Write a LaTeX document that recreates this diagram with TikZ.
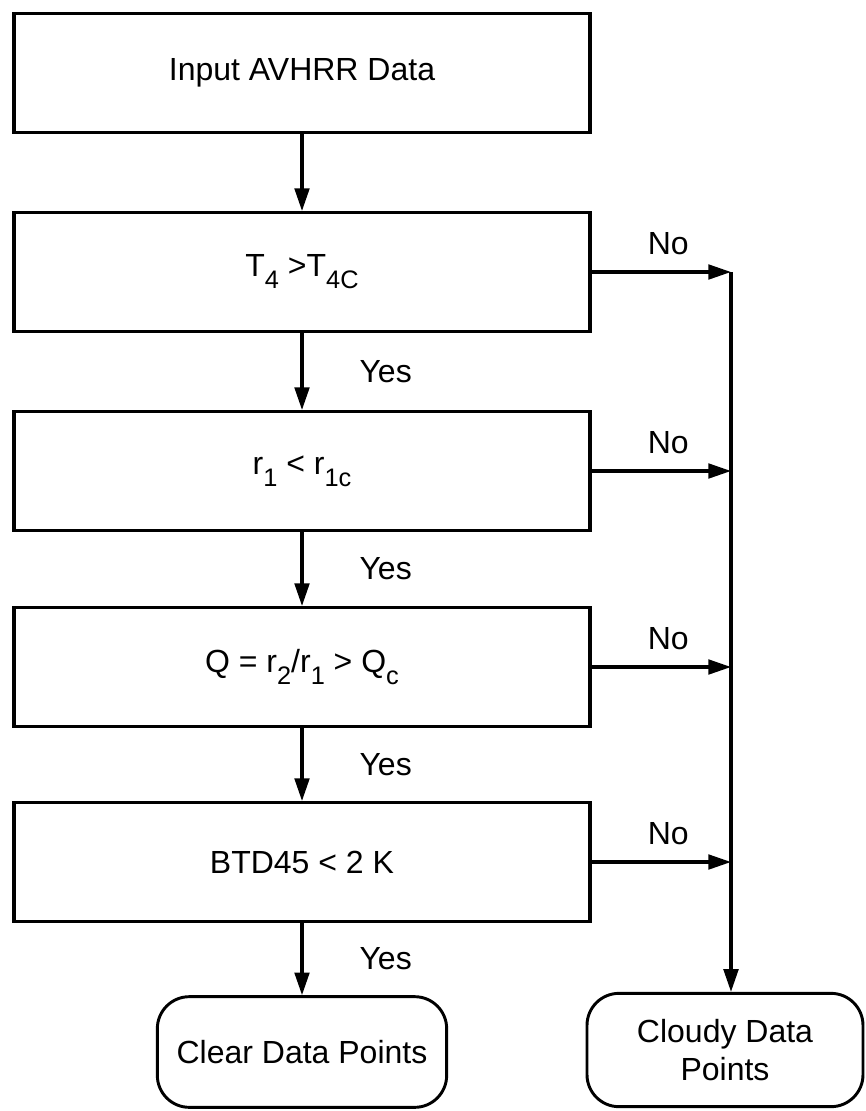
\documentclass[tikz,border=0pt]{standalone}
\usepackage{fontspec}
\setmainfont{Liberation Sans}
\usetikzlibrary{arrows.meta}
\newcommand{\dn}[1]{\raisebox{-0.38em}{\fontsize{19}{19}\selectfont #1}}
\begin{document}
\begin{tikzpicture}[x=0.75pt,y=-0.75pt,
  every node/.style={font=\fontsize{24}{29}\selectfont},
  procbox/.style={draw,line width=2.5pt,minimum width=432pt,minimum height=89pt,inner sep=0pt},
  termbox/.style={draw,line width=2.2pt,rounded corners=24pt,inner sep=0pt,align=center},
  flow/.style={line width=2.3pt,-{Triangle[length=17pt,width=11pt]}},
  lbl/.style={inner sep=0pt}]
\useasboundingbox (0,0) rectangle (865,1111);
\node[procbox] (b1) at (302,73) {Input AVHRR Data};
\node[procbox] (b2) at (302,272) {T\dn{4} >T\dn{4C}};
\node[procbox] (b3) at (302,471) {r\dn{1} < r\dn{1c}};
\node[procbox] (b4) at (302,667) {Q = r\dn{2}/r\dn{1} > Q\dn{c}};
\node[procbox] (b5) at (302,862) {BTD45 < 2 K};
\node[termbox,minimum width=217pt,minimum height=83pt] (clear) at (302,1052) {Clear Data Points};
\node[termbox,minimum width=207pt,minimum height=85pt] (cloudy) at (725,1050) {Cloudy Data\\Points};
\coordinate (vtop) at (731,272);
\draw[flow] (b1) -- (b2);
\draw[flow] (b2) -- node[lbl,right,xshift=42pt] (y1) {Yes} (b3);
\draw[flow] (b3) -- node[lbl,right,xshift=42pt] (y2) {Yes} (b4);
\draw[flow] (b4) -- node[lbl,right,xshift=42pt] (y3) {Yes} (b5);
\draw[flow] (b5) -- node[lbl,right,xshift=42pt] (y4) {Yes} (clear);
\draw[flow] (b2.east) -- node[lbl,above=12pt,pos=0.55] (n1) {No} (b2.east -| vtop);
\draw[flow] (b3.east) -- node[lbl,above=12pt,pos=0.55] (n2) {No} (b3.east -| vtop);
\draw[flow] (b4.east) -- node[lbl,above=12pt,pos=0.55] (n3) {No} (b4.east -| vtop);
\draw[flow] (b5.east) -- node[lbl,above=12pt,pos=0.55] (n4) {No} (b5.east -| vtop);
\draw[flow] (vtop) -- (vtop |- cloudy.north);
\end{tikzpicture}
\end{document}
